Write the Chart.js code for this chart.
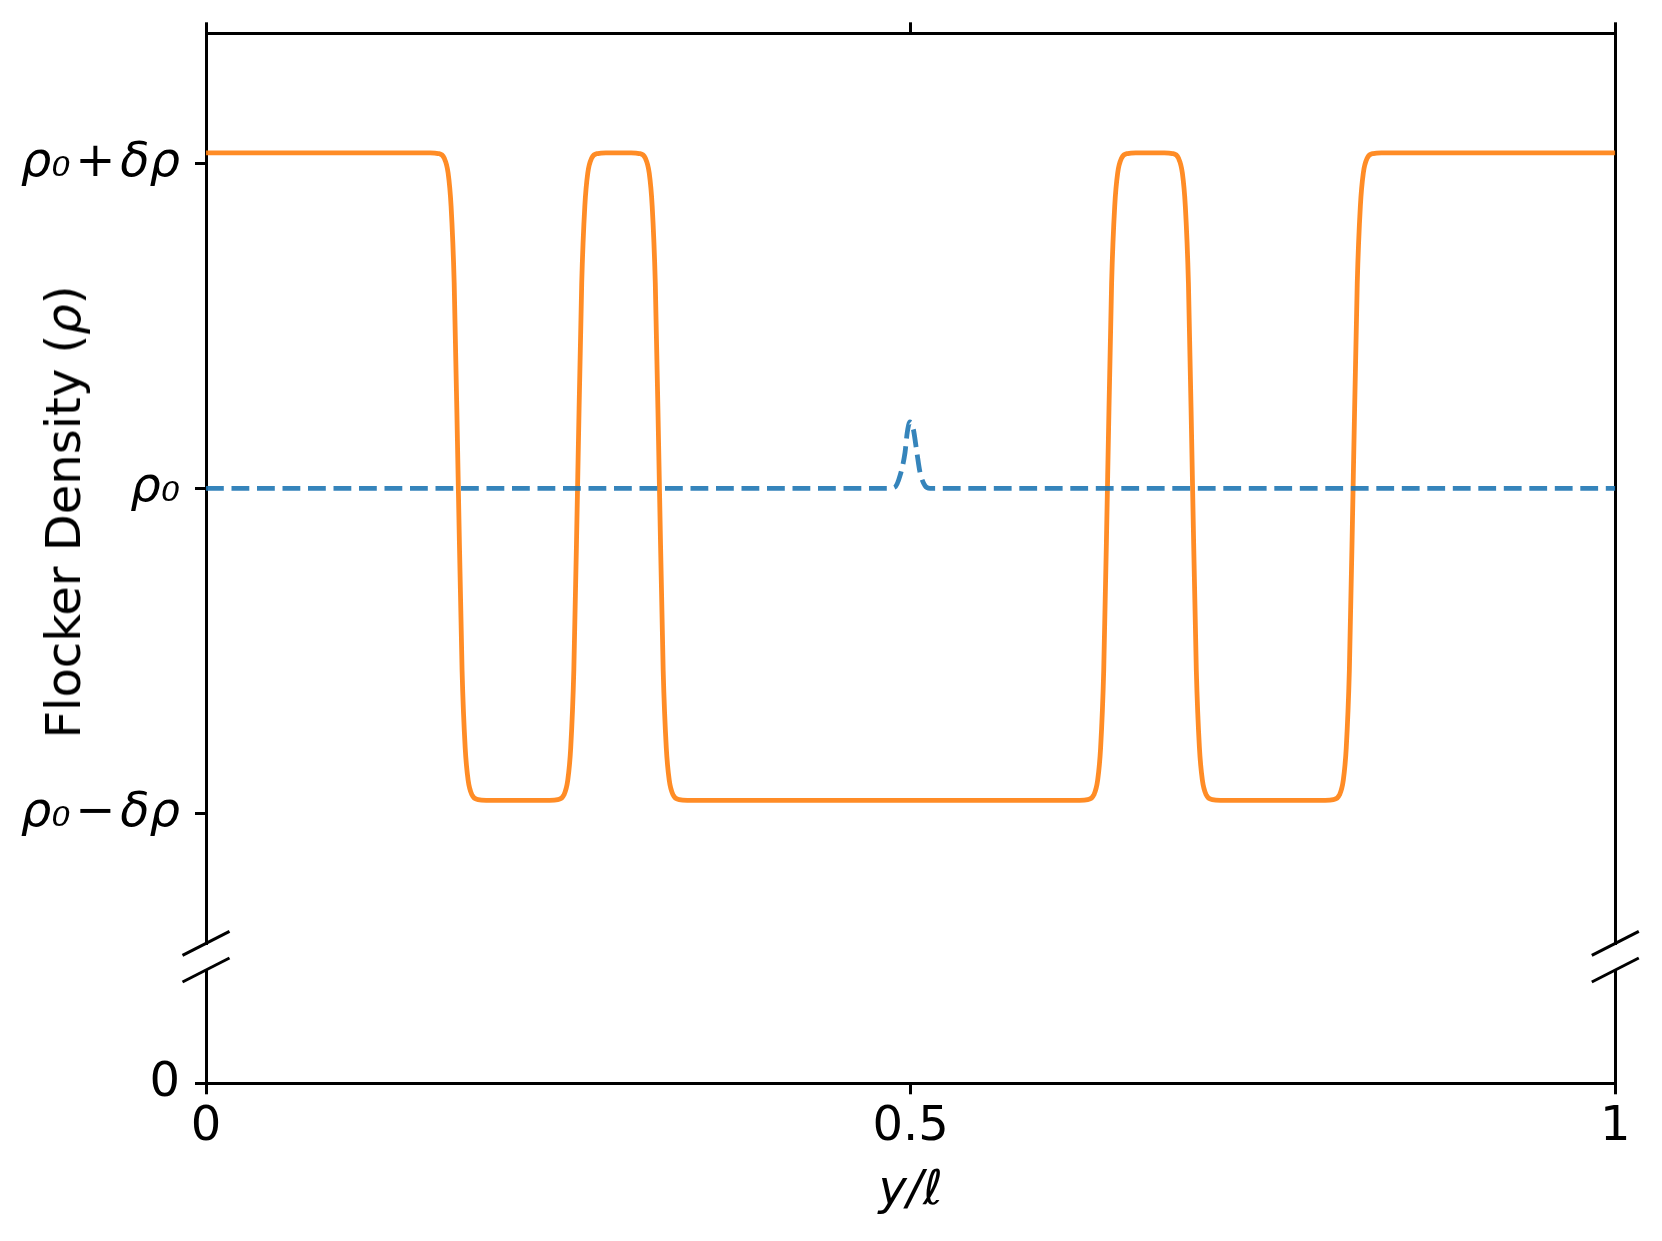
<!DOCTYPE html>
<html>
<head>
<meta charset="utf-8">
<script src="https://cdn.jsdelivr.net/npm/chart.js@4.4.1/dist/chart.umd.min.js"></script>
<style>
  html, body { margin: 0; padding: 0; background: #fff; }
  #wrap { position: relative; width: 1662px; height: 1241px; overflow: hidden; }
  #topWrap { position: absolute; left: 0; top: 0; }
  #botWrap { position: absolute; left: 0; top: 950px; }
  #ylabel {
    position: absolute; left: 63px; top: 512px;
    transform: translate(-50%, -50%) rotate(-90deg);
    font: 48px 'DejaVu Sans'; white-space: nowrap; color: #000;
  }
</style>
</head>
<body>
<div id="wrap">
  <div id="topWrap"><canvas id="topChart" width="1662" height="960"></canvas></div>
  <div id="botWrap"><canvas id="botChart" width="1662" height="291"></canvas></div>
  <div id="ylabel">Flocker Density (<i>ρ</i>)</div>
</div>
<script>
// density in units where rho0 = 1 and delta rho = 0.5
const xTickValues = [0, 0.5, 1];
const xTickLabels = ['0', '0.5', '1'];
const yTickValues = [0.5, 1, 1.5];
const yTickLabels = ['ρ₀\u200a−\u200aδρ', 'ρ₀', 'ρ₀\u200a+\u200aδρ'];
const yLowTickValues = [0];
const yLowTickLabels = ['0'];
const yTopRange = [0.3, 1.7];
const yLowRange = [0, 0.174];

// perturbed uniform state (dashed blue)
const uniformX = [0, 0.4841, 0.4889, 0.4924, 0.4960, 0.4976, 0.4995, 0.5019, 0.5043, 0.5066, 0.5102, 0.5137, 1];
const uniformY = [1, 1, 1.002, 1.019, 1.055, 1.086, 1.102, 1.091, 1.057, 1.025, 1.004, 1, 1];

// banded state (orange)
const bandX = [0,
  0.1590, 0.1647, 0.1690, 0.1718, 0.1739, 0.1761, 0.1789, 0.1817, 0.1839, 0.1860, 0.1888, 0.1931, 0.1988,
  0.2439, 0.2496, 0.2539, 0.2567, 0.2588, 0.2610, 0.2638, 0.2666, 0.2688, 0.2709, 0.2737, 0.2780, 0.2837,
  0.3017, 0.3074, 0.3117, 0.3145, 0.3166, 0.3188, 0.3216, 0.3244, 0.3266, 0.3287, 0.3315, 0.3358, 0.3415,
  0.6199, 0.6256, 0.6299, 0.6327, 0.6348, 0.6370, 0.6398, 0.6426, 0.6448, 0.6469, 0.6497, 0.6540, 0.6597,
  0.6800, 0.6857, 0.6900, 0.6928, 0.6949, 0.6971, 0.6999, 0.7027, 0.7049, 0.7070, 0.7098, 0.7141, 0.7198,
  0.7942, 0.7999, 0.8042, 0.8070, 0.8091, 0.8113, 0.8141, 0.8169, 0.8191, 0.8212, 0.8240, 0.8283, 0.8340,
  1];
const bandY = [1.516,
  1.516, 1.515, 1.508, 1.485, 1.434, 1.316, 1.018, 0.720, 0.601, 0.551, 0.528, 0.521, 0.520,
  0.520, 0.521, 0.528, 0.551, 0.601, 0.720, 1.018, 1.316, 1.434, 1.485, 1.508, 1.515, 1.516,
  1.516, 1.515, 1.508, 1.485, 1.434, 1.316, 1.018, 0.720, 0.601, 0.551, 0.528, 0.521, 0.520,
  0.520, 0.521, 0.528, 0.551, 0.601, 0.720, 1.018, 1.316, 1.434, 1.485, 1.508, 1.515, 1.516,
  1.516, 1.515, 1.508, 1.485, 1.434, 1.316, 1.018, 0.720, 0.601, 0.551, 0.528, 0.521, 0.520,
  0.520, 0.521, 0.528, 0.551, 0.601, 0.720, 1.018, 1.316, 1.434, 1.485, 1.508, 1.515, 1.516,
  1.516];

const FONT = 'DejaVu Sans';
const BLACK = '#000';
const PLOT_LEFT = 206;
const PLOT_RIGHT_PAD = 1662 - 1615.3;

Chart.defaults.font.family = FONT;
Chart.defaults.color = BLACK;

const toPoints = (xs, ys) => xs.map((x, i) => ({x: x, y: ys[i]}));

function makeDatasets() {
  return [
    {
      label: 'uniform',
      data: toPoints(uniformX, uniformY),
      borderColor: 'rgba(31, 119, 180, 0.9)',
      borderWidth: 4.8,
      borderDash: [17.8, 7.7],
      pointRadius: 0,
      cubicInterpolationMode: 'monotone'
    },
    {
      label: 'banded',
      data: toPoints(bandX, bandY),
      borderColor: 'rgba(255, 127, 14, 0.9)',
      borderWidth: 4.8,
      pointRadius: 0,
      cubicInterpolationMode: 'monotone'
    }
  ];
}

const gridOpts = {
  drawOnChartArea: false, drawTicks: true, tickLength: 11,
  tickWidth: 3, tickColor: BLACK, lineWidth: 3, color: BLACK
};
const borderOpts = {display: true, color: BLACK, width: 3};

// fixed axis sizes so the plot box sits where the reference has it
function fixV(width) {
  return s => { s.width = width; s.paddingTop = 0; s.paddingBottom = 0; };
}
function fixH(height) {
  return s => { s.height = height; s.paddingLeft = 0; s.paddingRight = 0; };
}

function leftAxis(range, values, labels, italic) {
  return {
    type: 'linear', position: 'left', min: range[0], max: range[1],
    afterFit: fixV(PLOT_LEFT),
    afterBuildTicks: s => { s.ticks = values.map(v => ({value: v})); },
    border: borderOpts,
    grid: gridOpts,
    ticks: {
      padding: 15, color: BLACK,
      font: {family: FONT, size: 48, style: italic ? 'italic' : 'normal'},
      callback: (v, i) => labels[i]
    }
  };
}

function rightAxis(range) {
  return {
    type: 'linear', position: 'right', min: range[0], max: range[1],
    afterFit: fixV(0),
    border: borderOpts,
    grid: {drawOnChartArea: false, drawTicks: false, lineWidth: 3, color: BLACK},
    ticks: {display: false}
  };
}

// the diagonal marks where the y axis is broken
const breakMarks = {
  id: 'breakMarks',
  afterDraw(chart, args, opts) {
    const {ctx, chartArea: a} = chart;
    const y = opts.edge === 'bottom' ? a.bottom : a.top;
    ctx.save();
    ctx.strokeStyle = BLACK;
    ctx.lineWidth = 3;
    [a.left, a.right].forEach(x => {
      ctx.beginPath();
      ctx.moveTo(x - 23.5, y + 12);
      ctx.lineTo(x + 23.5, y - 12);
      ctx.stroke();
    });
    ctx.restore();
  }
};

new Chart(document.getElementById('topChart'), {
  type: 'line',
  data: {datasets: makeDatasets()},
  plugins: [breakMarks],
  options: {
    responsive: false,
    animation: false,
    events: [],
    layout: {padding: {left: 0, top: 0, right: PLOT_RIGHT_PAD, bottom: 960 - 943.3}},
    plugins: {legend: {display: false}, tooltip: {enabled: false}, breakMarks: {edge: 'bottom'}},
    scales: {
      x: {
        type: 'linear', position: 'top', min: 0, max: 1,
        afterFit: fixH(33.3),
        afterBuildTicks: s => { s.ticks = xTickValues.map(v => ({value: v})); },
        border: borderOpts,
        grid: gridOpts,
        ticks: {display: false}
      },
      y: leftAxis(yTopRange, yTickValues, yTickLabels, true),
      yR: rightAxis(yTopRange)
    }
  }
});

new Chart(document.getElementById('botChart'), {
  type: 'line',
  data: {datasets: makeDatasets()},
  plugins: [breakMarks],
  options: {
    responsive: false,
    animation: false,
    events: [],
    layout: {padding: {left: 0, top: 20, right: PLOT_RIGHT_PAD, bottom: 0}},
    plugins: {legend: {display: false}, tooltip: {enabled: false}, breakMarks: {edge: 'top'}},
    scales: {
      x: {
        type: 'linear', position: 'bottom', min: 0, max: 1,
        afterFit: fixH(291 - 20 - 113.3),
        afterBuildTicks: s => { s.ticks = xTickValues.map(v => ({value: v})); },
        border: borderOpts,
        grid: gridOpts,
        ticks: {
          padding: 4, color: BLACK, maxRotation: 0,
          font: {family: FONT, size: 48},
          callback: (v, i) => xTickLabels[i]
        },
        title: {
          display: true, text: 'y/ℓ', color: BLACK,
          font: {family: FONT, size: 48, style: 'italic'},
          padding: {top: 0, bottom: 21}
        }
      },
      y: leftAxis(yLowRange, yLowTickValues, yLowTickLabels, false),
      yR: rightAxis(yLowRange)
    }
  }
});
</script>
</body>
</html>
